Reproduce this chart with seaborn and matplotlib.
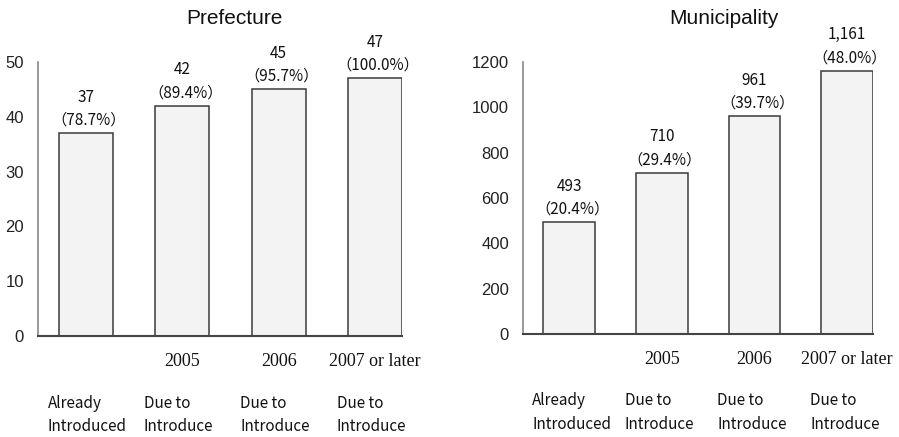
import matplotlib
matplotlib.use("Agg")
import matplotlib.pyplot as plt
from matplotlib.transforms import ScaledTranslation
import seaborn as sns
import pandas as pd

sns.set_style("white")
plt.rcParams['font.family'] = ['Liberation Sans', 'DejaVu Sans']

categories = ["Already Introduced", "Due to Introduce 2005", "Due to Introduce 2006", "Due to Introduce 2007 or later"]
year_labels = ["", "2005", "2006", "2007 or later"]
bottom_labels = ["Already\nIntroduced", "Due to\nIntroduce", "Due to\nIntroduce", "Due to\nIntroduce"]

pref_values = [37, 42, 45, 47]
pref_counts = ["37", "42", "45", "47"]
pref_pcts = ["78.7%", "89.4%", "95.7%", "100.0%"]
pref_ticks = [0, 10, 20, 30, 40, 50]

muni_values = [493, 710, 961, 1161]
muni_counts = ["493", "710", "961", "1,161"]
muni_pcts = ["20.4%", "29.4%", "39.7%", "48.0%"]
muni_ticks = [0, 200, 400, 600, 800, 1000, 1200]

fig = plt.figure(figsize=(8.99, 4.37), dpi=100)
ax1 = fig.add_axes([38/899, 1-336/437, (402-38)/899, (336-62)/437])
ax2 = fig.add_axes([523/899, 1-334/437, (873-523)/899, (334-62)/437])

CJK = ["Noto Sans CJK JP", "DejaVu Sans"]

def draw(ax, values, counts, pcts, ticks, title, title_x):
    df = pd.DataFrame({"cat": categories, "val": values})
    sns.barplot(data=df, x="cat", y="val", order=categories, ax=ax,
                color="#f3f3f3", edgecolor="#3a3a3a", linewidth=1.1,
                width=0.56, saturation=1)
    ax.set_xlim(-0.5, 3.28)
    ax.set_ylim(0, ticks[-1])
    ax.set_yticks(ticks)
    ax.set_yticklabels([str(t) for t in ticks], fontsize=12, color="#222222")
    for lab in ax.get_yticklabels():
        lab.set_transform(lab.get_transform() + ScaledTranslation(0, -3/72, fig.dpi_scale_trans))
    ax.set_xticks(range(len(categories)))
    ax.set_xticklabels(year_labels, family=["Liberation Serif", "DejaVu Serif"], fontsize=13, color="#111111")
    ax.tick_params(axis="x", length=0, pad=12)
    ax.tick_params(axis="y", length=3, width=1, direction="in", color="#888888", pad=10)
    ax.set_xlabel("")
    ax.set_ylabel("")
    for s in ["top", "right"]:
        ax.spines[s].set_visible(False)
    ax.spines["left"].set_color("#888888")
    ax.spines["bottom"].set_color("#444444")
    ax.spines["left"].set_linewidth(1.2)
    ax.spines["bottom"].set_linewidth(1.5)
    for i, (v, c, p) in enumerate(zip(values, counts, pcts)):
        ax.annotate(c, (i, v), xytext=(0, 26), textcoords="offset points",
                    ha="center", va="center", fontsize=11,
                    family=CJK, color="#111111")
        ax.annotate("（" + p + "）", (i, v), xytext=(2, 9.5), textcoords="offset points",
                    ha="center", va="center", fontsize=11,
                    family=CJK, color="#111111")
    trans = ax.get_xaxis_transform()
    for i, lab in enumerate(bottom_labels):
        ax.text(i - 0.40, -0.215, lab, transform=trans, ha="left", va="top",
                fontsize=11, linespacing=1.5,
                family=CJK, color="#111111")
    ax.text(title_x, 1.16, title, transform=ax.transAxes, ha="center", va="center",
            fontsize=15, color="#111111")

draw(ax1, pref_values, pref_counts, pref_pcts, pref_ticks, "Prefecture", 0.54)
draw(ax2, muni_values, muni_counts, muni_pcts, muni_ticks, "Municipality", 0.575)

fig.savefig("out.png", dpi=100)
